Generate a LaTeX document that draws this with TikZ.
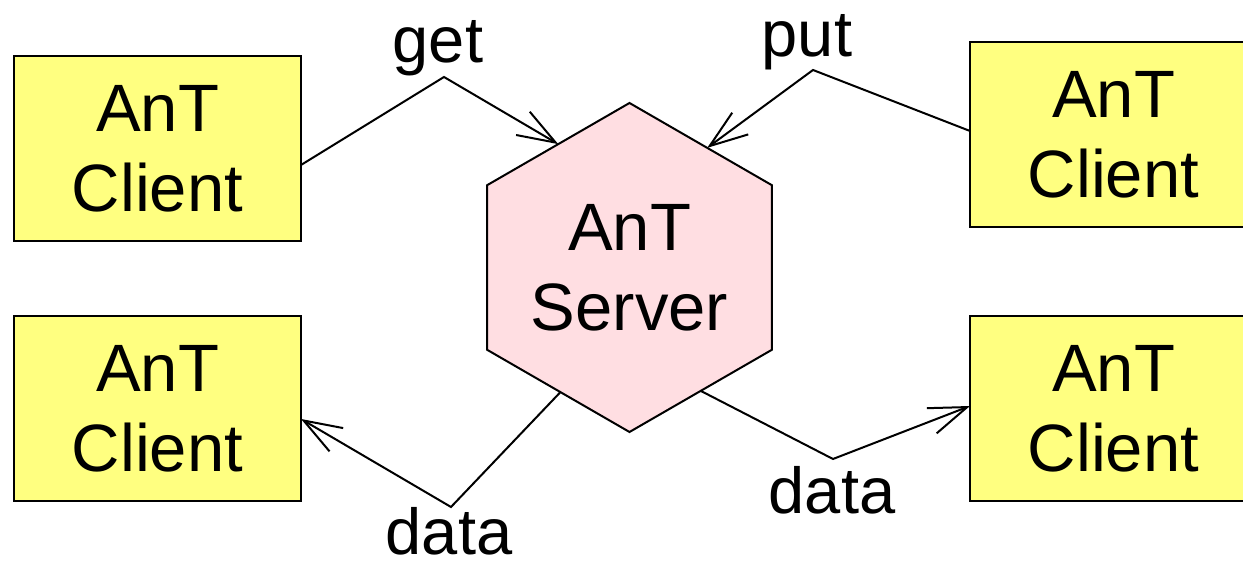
\documentclass[tikz,border=0pt]{standalone}
\usepackage{fontspec}
\setmainfont{Liberation Sans}
\usetikzlibrary{shapes.geometric,arrows.meta,calc}
\definecolor{boxyellow}{RGB}{255,255,128}
\definecolor{srvpink}{RGB}{255,222,226}
\begin{document}
\begin{tikzpicture}[x=1pt,y=1pt,
  client/.style={draw=black, line width=2pt, fill=boxyellow, rectangle,
    minimum width=287pt, minimum height=185pt, inner sep=0pt, outer sep=0pt,
    align=center, font=\fontsize{67}{80}\selectfont},
  server/.style={draw=black, line width=2pt, fill=srvpink, regular polygon,
    regular polygon sides=6, shape border rotate=30, minimum size=329pt,
    inner sep=0pt, outer sep=0pt, align=center, font=\fontsize{67}{80}\selectfont},
  conn/.style={line width=2pt, line join=miter, -{Straight Barb[length=38pt,width=27pt,line width=2pt]}},
  lbl/.style={font=\fontsize{65}{78}\selectfont, anchor=base, inner sep=0pt}]
\useasboundingbox (0,0) rectangle (1243,564);
\clip (0,0) rectangle (1243,564);
\node[client] (c1) at (157.5,415.5) {AnT\\Client};
\node[client] (c2) at (157.5,155.5) {AnT\\Client};
\node[client] (c3) at (1113.5,429.5) {AnT\\Client};
\node[client] (c4) at (1113.5,155.5) {AnT\\Client};
\node[server] (srv) at (629.5,296.5) {AnT\\Server};
\coordinate (p1) at (444,487);
\coordinate (p2) at (813,494);
\coordinate (p3) at (451,57);
\coordinate (p4) at (833,105);
\draw[conn] ($(c1.east)+(0,-16.5)$) -- (p1) -- (srv.120);
\draw[conn] ($(c3.west)+(0,3.5)$) -- (p2) -- (srv.57);
\draw[conn] (srv.241) -- (p3) -- ($(c2.east)+(0,-10.5)$);
\draw[conn] (srv.-60) -- (p4) -- ($(c4.west)+(0,2.5)$);
\node[lbl] (lget) at (438,501) {get};
\node[lbl] (lput) at (807,507) {put};
\node[lbl] (ldl) at (449,9) {data};
\node[lbl] (ldr) at (832,50) {data};
\end{tikzpicture}
\end{document}
